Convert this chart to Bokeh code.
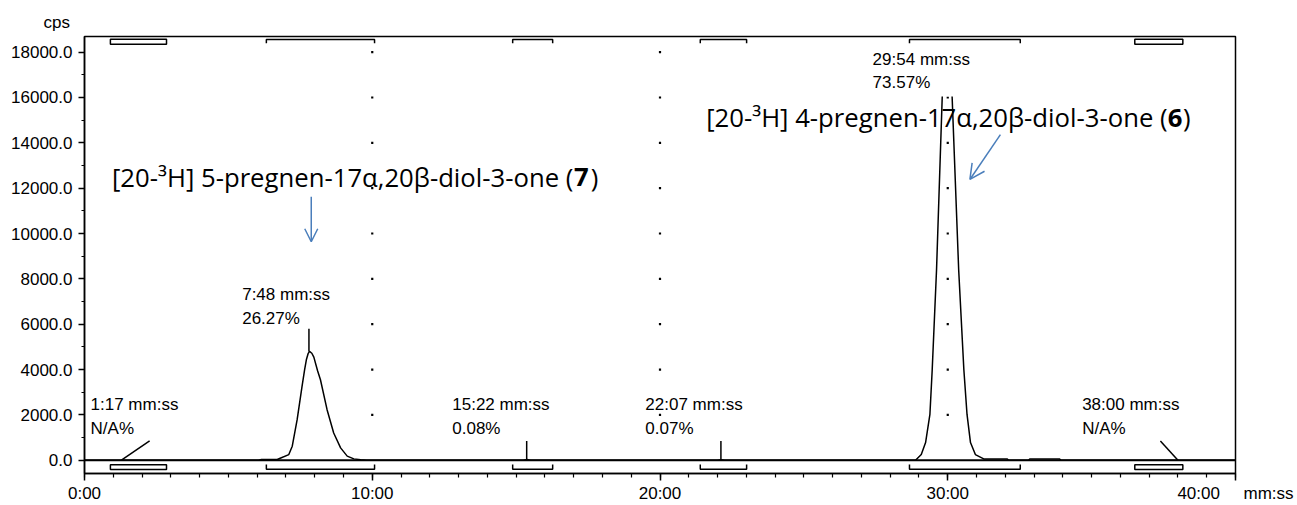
from bokeh.plotting import figure
from bokeh.models import (Range1d, FixedTicker, Label, Span, Arrow, OpenHead,
                          PrintfTickFormatter, Title)
from bokeh.embed import file_html
from bokeh.resources import INLINE

# ---------------- data ----------------
# retention time in minutes, detector signal in cps
time_min = [0.00, 6.05, 6.15, 6.70, 6.80, 7.10, 7.22, 7.39, 7.56, 7.65, 7.71,
            7.77, 7.82, 7.90, 7.97, 8.10, 8.20, 8.43, 8.66, 8.90, 9.13, 9.36,
            9.60, 9.80,
            15.25, 15.37, 15.50, 22.00, 22.12, 22.25,
            28.88, 29.08, 29.23, 29.38, 29.46, 29.61, 29.81, 29.88, 29.93,
            30.00, 30.07, 30.15, 30.38, 30.56, 30.67, 30.79, 30.96, 31.25,
            32.06, 32.12, 32.80, 32.86, 33.88, 33.94, 40.00]
signal_cps = [0, 0, 35, 35, 90, 250, 620, 1790, 3260, 4000, 4430,
              4700, 4800, 4720, 4550, 3950, 3550, 2230, 1200, 545, 180, 60,
              20, 0,
              0, 30, 0, 0, 25, 0,
              0, 250, 780, 2020, 3990, 8390, 16100, 17300, 17800,
              17650, 17100, 16100, 8390, 3990, 2020, 780, 250, 60,
              60, 0, 0, 60, 60, 0, 0]

# detected peaks
peak_time_min = [1.283, 7.800, 15.367, 22.117, 29.900, 38.000]
peak_rt_text = ["1:17", "7:48", "15:22", "22:07", "29:54", "38:00"]
peak_pct_text = ["N/A%", "26.27%", "0.08%", "0.07%", "73.57%", "N/A%"]
peak_height_cps = [0, 4800, 0, 0, 17800, 0]

# integration windows (minutes)
win_start = [0.90, 6.32, 14.88, 21.40, 28.67, 36.50]
win_end = [2.85, 10.08, 16.27, 23.01, 32.52, 38.17]
win_is_na = [True, False, False, False, False, True]

compound_names = ["[20-\u00b3H] 5-pregnen-17\u03b1,20\u03b2-diol-3-one",
                  "[20-\u00b3H] 4-pregnen-17\u03b1,20\u03b2-diol-3-one"]
compound_ids = ["7", "6"]

x_ticks = [0, 10, 20, 30, 40]
x_tick_labels = ["0:00", "10:00", "20:00", "30:00", "40:00"]
x_unit = "mm:ss"
y_ticks = [0, 2000, 4000, 6000, 8000, 10000, 12000, 14000, 16000, 18000]
y_unit = "cps"

# ---------------- layout / style ----------------
FONT = "Liberation Sans"
FS = "17px"
BLUE = "#4a7ebb"

p = figure(width=1297, height=505, output_backend="svg", toolbar_location=None,
           x_range=Range1d(0, 40), y_range=Range1d(-585, 18690),
           min_border_left=84, min_border_right=62, min_border_top=36,
           min_border_bottom=31)
p.grid.visible = False
p.outline_line_color = "black"
p.outline_line_width = 1.5
p.outline_line_alpha = 1.0

xa = p.xaxis[0]
xa.ticker = FixedTicker(ticks=x_ticks, minor_ticks=list(range(0, 41)))
overrides = {t: l for t, l in zip(x_ticks, x_tick_labels)}
# last tick label shares its line with the unit, shifted left of the tick
overrides[x_ticks[-1]] = x_tick_labels[-1] + "\u00a0" * 5 + x_unit
xa.major_label_overrides = overrides
xa.major_tick_out = 7
xa.major_tick_in = 0
xa.minor_tick_out = 4
xa.minor_tick_in = 0
xa.axis_line_width = 1.5
xa.major_tick_line_width = 1.5
xa.minor_tick_line_width = 1.2
xa.major_label_text_font = FONT
xa.major_label_text_font_size = FS
xa.major_label_text_color = "black"
xa.major_label_standoff = 3

ya = p.yaxis[0]
ya.ticker = FixedTicker(ticks=y_ticks, minor_ticks=list(range(0, 18001, 1000)))
ya.formatter = PrintfTickFormatter(format="%.1f")
ya.major_tick_out = 6
ya.major_tick_in = 0
ya.minor_tick_out = 3
ya.minor_tick_in = 0
ya.axis_line_width = 1.5
ya.major_tick_line_width = 1.5
ya.minor_tick_line_width = 1.2
ya.major_label_text_font = FONT
ya.major_label_text_font_size = FS
ya.major_label_text_color = "black"
ya.major_label_standoff = 6

# y unit above the axis
p.add_layout(Title(text=y_unit, align="left", offset=-41, text_font=FONT,
                   text_font_size=FS, text_font_style="normal",
                   text_color="black", standoff=9), "above")

# dotted grid: dots at major x ticks (inside) and major y ticks
gx, gy = [], []
for tx in x_ticks[1:-1]:
    for ty in y_ticks[1:]:
        gx.append(tx)
        gy.append(ty)
p.scatter(gx, gy, marker="square", size=2.2, color="black", line_width=0)

# baseline
p.add_layout(Span(location=0, dimension="width", line_color="black", line_width=2))

# chromatogram
p.line(time_min, signal_cps, line_color="black", line_width=1.5)

# integration windows: brackets at the bottom and top, boxes for N/A
bx, by, tx_, ty_ = [], [], [], []
ql, qr = [], []
for s, e, na in zip(win_start, win_end, win_is_na):
    if na:
        ql.append(s)
        qr.append(e)
    else:
        bx.append([s, s, e, e])
        by.append([-189, -396, -396, -189])
        tx_.append([s, s, e, e])
        ty_.append([18396, 18560, 18560, 18396])
p.multi_line(bx, by, line_color="black", line_width=1.5)
p.multi_line(tx_, ty_, line_color="black", line_width=1.5)
p.quad(left=ql, right=qr, top=[-203] * len(ql), bottom=[-410] * len(ql),
       fill_color="white", line_color="black", line_width=1.5)
p.quad(left=ql, right=qr, top=[18573] * len(ql), bottom=[18353] * len(ql),
       fill_color="white", line_color="black", line_width=1.5)

# peak markers and leaders
label_left = [0.21, 5.48, 12.78, 19.49, 27.25, 34.67]
label_mid = [1923, 6778, 1923, 1923, 17164, 1923]
marker_len = [0, 1000, 850, 850, 0, 0]
leader_dx = [0.98, 0, 0, 0, 0, -0.61]
mx0, my0, mx1, my1 = [], [], [], []
for t, h, pct, ml, dx in zip(peak_time_min, peak_height_cps, peak_pct_text,
                              marker_len, leader_dx):
    if pct.startswith("N/A"):
        mx0.append(t); my0.append(0); mx1.append(t + dx); my1.append(850)
    elif ml > 0:
        mx0.append(t); my0.append(h); mx1.append(t); my1.append(h + ml)
p.segment(mx0, my0, mx1, my1, line_color="black", line_width=1.5)

for i, (rt, pct) in enumerate(zip(peak_rt_text, peak_pct_text)):
    lab = Label(x=label_left[i], y=label_mid[i], text=rt + " mm:ss\n" + pct,
                text_font=FONT, text_font_size=FS, text_color="black",
                text_align="left", text_baseline="middle",
                text_line_height=1.24)
    if peak_height_cps[i] > 15000:
        lab.background_fill_color = "white"
        lab.padding = 4
    p.add_layout(lab)

# compound annotations
cmp_paren_x = [16.99, 37.64]
cmp_id_x = [17.52, 38.16]
cmp_close_x = [17.86, 38.44]
cmp_base = [12472, 15113]
for name, cid, xp, xi, xc, yb in zip(compound_names, compound_ids, cmp_paren_x,
                                      cmp_id_x, cmp_close_x, cmp_base):
    for txt, xx, style in ((name + " (", xp, "normal"), (cid, xi, "bold"),
                           (")", xc, "normal")):
        p.add_layout(Label(x=xx, y=yb, text=txt, text_font="Open Sans",
                           text_font_size="25.7px", text_font_style=style,
                           text_color="black", text_align="right",
                           text_baseline="alphabetic"))

# arrows
p.add_layout(Arrow(x_start=7.88, y_start=11619, x_end=7.88, y_end=9638,
                   line_color=BLUE, line_width=1.5,
                   end=OpenHead(size=13, line_color=BLUE, line_width=1.5)))
p.add_layout(Arrow(x_start=31.83, y_start=14365, x_end=30.77, y_end=12384,
                   line_color=BLUE, line_width=1.5,
                   end=OpenHead(size=15, line_color=BLUE, line_width=1.5)))

open("out.html", "w").write(file_html(p, INLINE))
